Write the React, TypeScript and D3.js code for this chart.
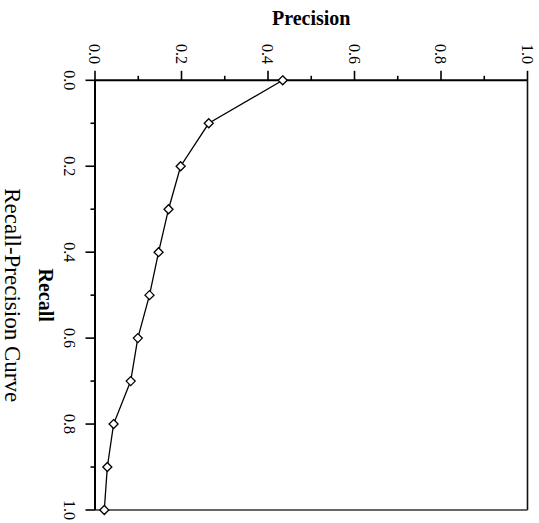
import React from "react";
import * as d3 from "d3";

const recall = [0.0, 0.1, 0.2, 0.3, 0.4, 0.5, 0.6, 0.7, 0.8, 0.9, 1.0];
const precision = [0.434, 0.263, 0.198, 0.17, 0.147, 0.126, 0.099, 0.0825, 0.043, 0.0285, 0.0215];
const majorTicks = [0, 0.2, 0.4, 0.6, 0.8, 1.0];
const minorTicks = [0.1, 0.3, 0.5, 0.7, 0.9];
const precisionTitle = "Precision";
const recallTitle = "Recall";
const chartTitle = "Recall-Precision Curve";

const W = 539;
const H = 523;
const FONT = "'Liberation Serif', 'Times New Roman', Times, serif";

export default function App() {
  const x = d3.scaleLinear().domain([0, 1]).range([95, 527.5]);
  const y = d3.scaleLinear().domain([0, 1]).range([80.3, 510]);
  const fmt = d3.format(".1f");
  const pts = recall.map((r, i) => [x(precision[i]), y(r)] as [number, number]);
  const line = d3.line()(pts) || "";
  const diamond = (cx: number, cy: number, s: number) =>
    `M${cx},${cy - s}L${cx + s},${cy}L${cx},${cy + s}L${cx - s},${cy}Z`;
  const majorLen = 9.5;
  const minorLen = 4.5;

  return (
    <svg
      width={W}
      height={H}
      style={{ position: "absolute", left: 0, top: 0, background: "#fff" }}
      fontFamily={FONT}
    >
      <rect x={0} y={0} width={W} height={H} fill="#fff" />
      {/* frame right & bottom */}
      <line x1={x(1)} x2={x(1)} y1={y(0)} y2={y(1)} stroke="#111" strokeWidth={1.6} />
      <line x1={x(0)} x2={x(1)} y1={y(1)} y2={y(1)} stroke="#333" strokeWidth={1.6} />
      {/* top axis (precision) */}
      <line x1={x(0)} x2={x(1)} y1={y(0)} y2={y(0)} stroke="#000" strokeWidth={2} />
      {majorTicks.map((t) => (
        <line key={"tm" + t} x1={x(t)} x2={x(t)} y1={y(0)} y2={y(0) - majorLen} stroke="#000" strokeWidth={1.6} />
      ))}
      {minorTicks.map((t) => (
        <line key={"tn" + t} x1={x(t)} x2={x(t)} y1={y(0)} y2={y(0) - minorLen} stroke="#000" strokeWidth={1.6} />
      ))}
      {majorTicks.map((t) => (
        <text
          key={"tl" + t}
          transform={`translate(${x(t)},${64}) rotate(90)`}
          textAnchor="end"
          dy="0.35em"
          fontSize={16}
          fill="#000"
        >
          {fmt(t)}
        </text>
      ))}
      {/* left axis (recall) */}
      <line x1={x(0)} x2={x(0)} y1={y(0)} y2={y(1)} stroke="#000" strokeWidth={2} />
      {majorTicks.map((t) => (
        <line key={"lm" + t} x1={x(0)} x2={x(0) - majorLen} y1={y(t)} y2={y(t)} stroke="#000" strokeWidth={1.6} />
      ))}
      {minorTicks.map((t) => (
        <line key={"ln" + t} x1={x(0)} x2={x(0) - minorLen} y1={y(t)} y2={y(t)} stroke="#000" strokeWidth={1.6} />
      ))}
      {majorTicks.map((t) => (
        <text
          key={"ll" + t}
          transform={`translate(${70},${y(t)}) rotate(90)`}
          textAnchor="middle"
          dy="0.35em"
          fontSize={16}
          fill="#000"
        >
          {fmt(t)}
        </text>
      ))}
      {/* titles */}
      <text x={(x(0) + x(1)) / 2} y={25} textAnchor="middle" fontSize={20} fontWeight="bold" fill="#000">
        {precisionTitle}
      </text>
      <text
        transform={`translate(${39},${(y(0) + y(1)) / 2}) rotate(90)`}
        textAnchor="middle"
        fontSize={20}
        fontWeight="bold"
        fill="#000"
      >
        {recallTitle}
      </text>
      <text
        transform={`translate(${5},${(y(0) + y(1)) / 2}) rotate(90)`}
        textAnchor="middle"
        fontSize={23}
        fill="#000"
      >
        {chartTitle}
      </text>
      {/* data */}
      <path d={line} fill="none" stroke="#000" strokeWidth={1.3} />
      {pts.map(([px, py], i) => (
        <path key={"m" + i} d={diamond(px, py, 4.5)} fill="#fff" stroke="#000" strokeWidth={1.3} />
      ))}
    </svg>
  );
}
